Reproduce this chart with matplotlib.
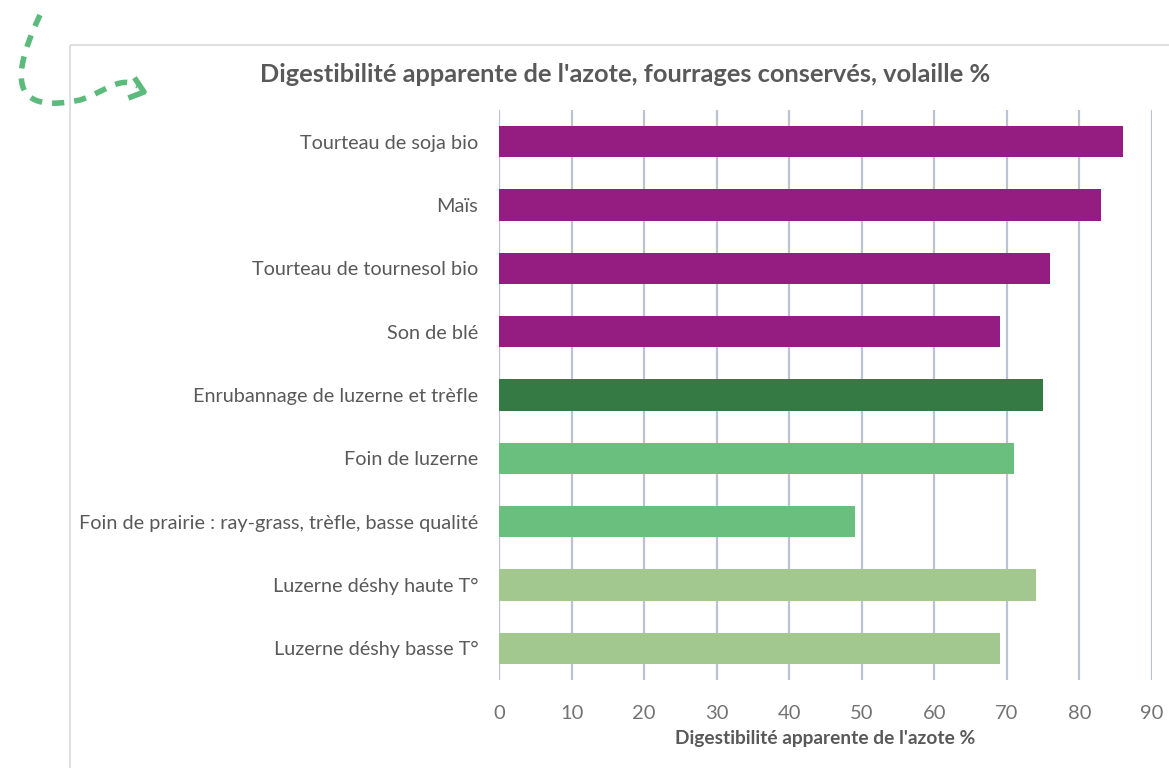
import numpy as np
import matplotlib.pyplot as plt
from matplotlib.patches import Rectangle

plt.rcParams['font.family'] = ['Lato', 'DejaVu Sans']

# data, top to bottom as in the chart
labels = ['Tourteau de soja bio', 'Maïs', 'Tourteau de tournesol bio', 'Son de blé',
          'Enrubannage de luzerne et trèfle', 'Foin de luzerne',
          'Foin de prairie : ray-grass, trèfle, basse qualité',
          'Luzerne déshy haute T°', 'Luzerne déshy basse T°']
values = [86, 83, 76, 69, 75, 71, 49, 74, 69]
groups = ['tourteau', 'tourteau', 'tourteau', 'tourteau', 'enrub', 'foin', 'foin', 'deshy', 'deshy']
group_colors = {'tourteau': '#951c80', 'enrub': '#357a44', 'foin': '#6abf7f', 'deshy': '#a2c78f'}
xticks = [0, 10, 20, 30, 40, 50, 60, 70, 80, 90]

W, H = 1169, 768
fig = plt.figure(figsize=(W / 100, H / 100), dpi=100)

# decoration layer: frame and dashed arrow
deco = fig.add_axes([0, 0, 1, 1], zorder=0)
deco.set_xlim(0, W)
deco.set_ylim(H, 0)
deco.axis('off')
deco.add_patch(Rectangle((70, 45), W, H, fill=False, edgecolor='#d9d9d9', linewidth=1.2))
t = np.linspace(0, 1, 200)
# bezier for the curly arrow
p0, p1, p2, p3 = np.array([40, 15]), np.array([12, 75]), np.array([8, 115]), np.array([80, 100])
c1 = ((1 - t) ** 3)[:, None] * p0 + (3 * (1 - t) ** 2 * t)[:, None] * p1 + (3 * (1 - t) * t ** 2)[:, None] * p2 + (t ** 3)[:, None] * p3
q0, q1, q2, q3 = np.array([80, 100]), np.array([105, 92]), np.array([120, 75]), np.array([138, 86])
c2 = ((1 - t) ** 3)[:, None] * q0 + (3 * (1 - t) ** 2 * t)[:, None] * q1 + (3 * (1 - t) * t ** 2)[:, None] * q2 + (t ** 3)[:, None] * q3
curve = np.vstack([c1, c2])
deco.plot(curve[:, 0], curve[:, 1], color='#5dba7d', linewidth=4, linestyle=(0, (2.2, 1.8)),
          solid_capstyle='butt')
deco.plot([136, 144, 131], [80, 92, 97], color='#5dba7d', linewidth=4)

ax = fig.add_axes([499 / W, 1 - 680 / H, (1152 - 499) / W, (680 - 110) / H], zorder=1)
ax.patch.set_alpha(0)
y = np.arange(len(labels))
ax.barh(y, values, height=0.49, color=[group_colors[g] for g in groups], zorder=3)
ax.set_ylim(len(labels) - 0.5, -0.5)
ax.set_xlim(0, 90)
ax.set_xticks(xticks)
ax.set_yticks(y)
ax.set_yticklabels(labels, fontsize=14.3, color='#595959')
ax.tick_params(axis='x', labelsize=14.5, colors='#737373', length=0, pad=18)
ax.tick_params(axis='y', length=0, pad=15)
ax.grid(axis='x', color='#b9c3d3', linewidth=1.6, zorder=0)
for s in ax.spines.values():
    s.set_visible(False)
ax.set_xlabel("Digestibilité apparente de l'azote %", fontsize=13.8, fontweight='bold',
              color='#595959', labelpad=6)
fig.text(625 / W, 1 - 75 / H, "Digestibilité apparente de l'azote, fourrages conservés, volaille %",
         ha='center', va='center', fontsize=18.3, fontweight='bold', color='#595959')

fig.savefig('out.png', dpi=100)
